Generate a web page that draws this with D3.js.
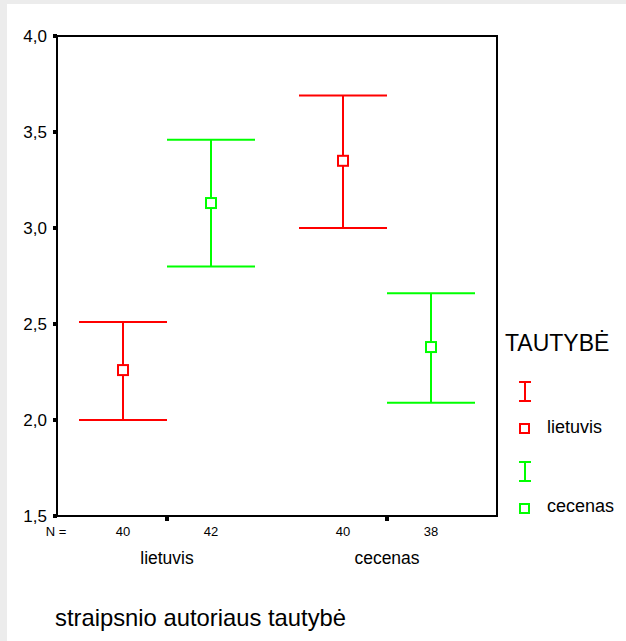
<!DOCTYPE html>
<html>
<head>
<meta charset="utf-8">
<script src="https://cdn.jsdelivr.net/npm/d3@7"></script>
<style>
  body { margin: 0; background: #ececec; }
  svg { display: block; }
  text { font-family: Arial, "Liberation Sans", sans-serif; fill: #000; }
</style>
</head>
<body>
<div id="chart"></div>
<script>
// Data
var categories = ["lietuvis", "cecenas"];
var series = ["lietuvis", "cecenas"];
var seriesColors = ["#ff0000", "#00ff00"];
var means = [[2.26, 3.13], [3.35, 2.38]];
var upper = [[2.51, 3.46], [3.69, 2.66]];
var lower = [[2.00, 2.80], [3.00, 2.09]];
var counts = [[40, 42], [40, 38]];
var yTicks = [1.5, 2.0, 2.5, 3.0, 3.5, 4.0];

var svgWidth = 626;
var svgHeight = 641;
var margin = { top: 36, right: 129, bottom: 125, left: 57 };
var width = svgWidth - margin.left - margin.right;
var height = svgHeight - margin.top - margin.bottom;

var svg = d3.select("#chart").append("svg")
    .attr("width", svgWidth)
    .attr("height", svgHeight);

// white page area
svg.append("rect")
    .attr("x", 7).attr("y", 4)
    .attr("width", svgWidth - 7).attr("height", svgHeight - 4)
    .attr("fill", "#fff");

var chartGroup = svg.append("g")
    .attr("transform", `translate(${margin.left}, ${margin.top})`);

var xScale = d3.scaleBand().domain(categories).range([0, width]);
var inner = d3.scaleBand().domain(series).range([0, xScale.bandwidth()]).paddingInner(0).paddingOuter(0.25);
var yScale = d3.scaleLinear().domain([1.5, 4.0]).range([height, 0]);

// frame
chartGroup.append("rect")
    .attr("x", 0).attr("y", 0)
    .attr("width", width).attr("height", height)
    .attr("fill", "none")
    .attr("stroke", "#000")
    .attr("stroke-width", 2);

// y axis ticks and labels
var yAxis = chartGroup.append("g");
yAxis.selectAll("rect")
    .data(yTicks)
    .enter()
    .append("rect")
    .attr("x", -4).attr("y", d => yScale(d) - 2)
    .attr("width", 4).attr("height", 4)
    .attr("fill", "#000");
yAxis.selectAll("text")
    .data(yTicks)
    .enter()
    .append("text")
    .attr("x", -10)
    .attr("y", d => yScale(d))
    .attr("dy", "0.36em")
    .attr("text-anchor", "end")
    .attr("font-size", "17px")
    .text(d => d3.format(".1f")(d).replace(".", ","));

// x ticks at category centres
chartGroup.selectAll(".xtick")
    .data(categories)
    .enter()
    .append("rect")
    .attr("x", d => xScale(d) + xScale.bandwidth() / 2 - 2)
    .attr("y", height)
    .attr("width", 4).attr("height", 5)
    .attr("fill", "#000");

// category labels
chartGroup.selectAll(".catLabel")
    .data(categories)
    .enter()
    .append("text")
    .attr("x", d => xScale(d) + xScale.bandwidth() / 2)
    .attr("y", height + 48)
    .attr("text-anchor", "middle")
    .attr("font-size", "17.5px")
    .text(d => d);

// N = labels
chartGroup.append("text")
    .attr("x", -1)
    .attr("y", height + 20)
    .attr("text-anchor", "middle")
    .attr("font-size", "13px")
    .text("N =");

var flat = [];
categories.forEach(function(c, i) {
    series.forEach(function(s, j) {
        flat.push({ cat: c, ser: s, color: seriesColors[j], mean: means[i][j], hi: upper[i][j], lo: lower[i][j], n: counts[i][j] });
    });
});

var cx = d => xScale(d.cat) + inner(d.ser) + inner.bandwidth() / 2;

chartGroup.selectAll(".nLabel")
    .data(flat)
    .enter()
    .append("text")
    .attr("x", cx)
    .attr("y", height + 20)
    .attr("text-anchor", "middle")
    .attr("font-size", "13px")
    .text(d => d.n);

// error bars
var capHalf = inner.bandwidth() / 2;
var bars = chartGroup.selectAll(".bar")
    .data(flat)
    .enter()
    .append("g")
    .attr("stroke", d => d.color)
    .attr("stroke-width", 2)
    .attr("fill", "none");

bars.append("line")
    .attr("x1", cx).attr("x2", cx)
    .attr("y1", d => yScale(d.hi)).attr("y2", d => yScale(d.lo));
bars.append("line")
    .attr("x1", d => cx(d) - capHalf).attr("x2", d => cx(d) + capHalf)
    .attr("y1", d => yScale(d.hi)).attr("y2", d => yScale(d.hi));
bars.append("line")
    .attr("x1", d => cx(d) - capHalf).attr("x2", d => cx(d) + capHalf)
    .attr("y1", d => yScale(d.lo)).attr("y2", d => yScale(d.lo));
bars.append("rect")
    .attr("x", d => cx(d) - 5).attr("y", d => yScale(d.mean) - 5)
    .attr("width", 10).attr("height", 10)
    .attr("fill", "#fff");

// x axis title
svg.append("text")
    .attr("x", 55)
    .attr("y", 626)
    .attr("font-size", "23.8px")
    .text("straipsnio autoriaus tautybė");

// legend
var legend = svg.append("g").attr("transform", "translate(505, 0)");
legend.append("text")
    .attr("x", 0).attr("y", 351)
    .attr("font-size", "23px")
    .text("TAUTYBĖ");

var legendTop = [382, 462];
var legendText = [433, 512];
series.forEach(function(s, j) {
    var y0 = legendTop[j];
    var g = legend.append("g")
        .attr("stroke", seriesColors[j])
        .attr("stroke-width", 2)
        .attr("fill", "none");
    g.append("line").attr("x1", 20).attr("x2", 20).attr("y1", y0).attr("y2", y0 + 19);
    g.append("line").attr("x1", 14).attr("x2", 26).attr("y1", y0).attr("y2", y0);
    g.append("line").attr("x1", 14).attr("x2", 26).attr("y1", y0 + 19).attr("y2", y0 + 19);
    g.append("rect").attr("x", 15).attr("y", y0 + 42).attr("width", 9).attr("height", 9).attr("fill", "#fff");
    legend.append("text")
        .attr("x", 42).attr("y", legendText[j])
        .attr("font-size", "18px")
        .text(s);
});
</script>
</body>
</html>
